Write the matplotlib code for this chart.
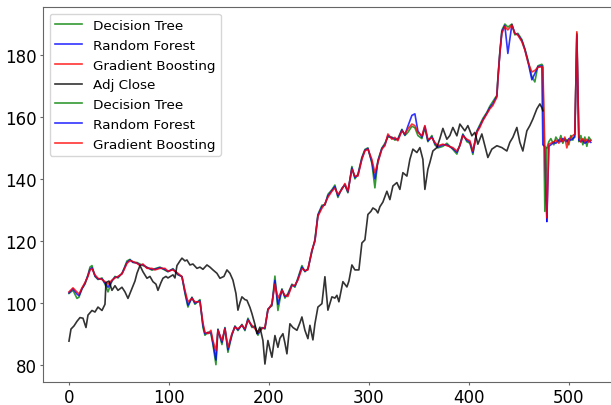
"""
Stock price vs. model predictions (Decision Tree / Random Forest / Gradient Boosting)
"""

import matplotlib
matplotlib.use("Agg")
import matplotlib.pyplot as plt

# ── 1. Data ──────────────────────────────────────────────────────────────────
# first stretch of predictions (day index 0 .. 478)
pred_x = [
    0, 4, 8, 10, 13, 16, 19, 21, 23, 26,
    29, 33, 36, 39, 43, 46, 49, 53, 55, 58,
    61, 64, 68, 71, 74, 78, 83, 86, 91, 96,
    99, 104, 109, 113, 116, 119, 123, 126, 131, 134,
    136, 139, 142, 144, 147, 149, 153, 156, 159, 163,
    166, 169, 173, 176, 179, 183, 186, 189, 193, 196,
    199, 203, 206, 209, 213, 216, 219, 223, 226, 229,
    233, 236, 239, 243, 246, 249, 253, 256, 259, 263,
    266, 269, 273, 276, 279, 283, 286, 289, 293, 296,
    299, 303, 306, 309, 313, 316, 319, 323, 326, 329,
    333, 336, 339, 343, 346, 349, 353, 356, 359, 363,
    366, 369, 374, 378, 384, 388, 391, 394, 398, 401,
    404, 408, 411, 414, 418, 421, 424, 428, 429, 431,
    433, 436, 439, 443, 446, 449, 453, 456, 459, 463,
    466, 469, 473, 474, 476, 478,
]

dt_pred = [
    103.0, 104.0, 101.4, 101.8, 104.5, 106.0, 109.0, 111.5, 112.0, 108.5,
    107.5, 108.0, 106.0, 103.5, 107.0, 108.5, 108.0, 109.5, 111.0, 113.5,
    114.0, 113.0, 113.0, 112.5, 112.0, 111.5, 110.5, 111.0, 111.5, 110.5,
    110.0, 111.0, 109.0, 108.5, 103.0, 98.6, 101.8, 99.5, 101.0, 92.0,
    89.5, 90.5, 90.0, 86.5, 80.0, 91.5, 86.5, 92.0, 84.0, 89.5,
    92.5, 91.0, 93.0, 91.0, 95.0, 92.0, 92.5, 89.5, 92.0, 91.5,
    98.0, 99.0, 108.6, 97.5, 104.5, 101.5, 103.0, 106.0, 105.0, 108.0,
    112.0, 110.0, 111.0, 116.5, 120.5, 128.5, 131.5, 131.5, 135.0, 136.5,
    138.0, 134.0, 137.0, 138.0, 135.5, 144.0, 140.0, 141.5, 147.0, 149.5,
    150.0, 145.0, 137.1, 146.0, 150.0, 151.5, 153.5, 153.5, 152.5, 153.0,
    156.0, 154.0, 155.0, 157.0, 156.5, 154.0, 153.0, 156.5, 152.0, 154.0,
    151.0, 150.0, 150.5, 151.5, 149.5, 148.0, 151.0, 154.5, 152.0, 151.5,
    147.9, 155.5, 157.5, 159.5, 161.5, 163.5, 165.0, 167.0, 172.5, 181.0,
    188.0, 190.0, 189.0, 190.0, 186.5, 187.0, 185.0, 182.0, 178.5, 173.0,
    171.3, 176.5, 177.0, 176.5, 129.5, 150.0,
]

rf_pred = [
    103.2, 104.5, 102.8, 102.3, 104.5, 106.3, 108.8, 110.8, 111.3, 108.7,
    107.7, 107.7, 106.4, 105.0, 107.1, 108.2, 108.3, 109.4, 110.8, 113.0,
    113.8, 113.1, 112.8, 112.2, 112.3, 111.3, 110.8, 110.8, 111.3, 110.8,
    110.1, 110.8, 109.2, 108.4, 103.5, 99.2, 101.6, 99.9, 100.6, 92.8,
    90.0, 90.3, 90.5, 87.0, 81.5, 91.3, 87.2, 91.8, 84.8, 89.8,
    92.3, 91.3, 92.8, 91.3, 94.6, 92.4, 92.0, 90.0, 91.8, 91.8,
    97.8, 99.4, 107.2, 99.5, 104.2, 102.0, 102.5, 105.7, 105.4, 107.6,
    111.5, 110.2, 110.8, 116.8, 120.0, 128.2, 131.0, 131.8, 134.5, 136.2,
    137.5, 134.5, 136.8, 138.2, 135.8, 143.5, 140.5, 141.2, 146.6, 149.2,
    149.8, 145.5, 140.0, 145.6, 149.8, 151.0, 154.0, 153.2, 153.0, 152.6,
    155.8, 154.2, 157.0, 160.5, 161.0, 155.5, 153.5, 157.0, 152.3, 153.5,
    151.5, 150.3, 151.0, 151.0, 149.8, 148.6, 150.8, 154.2, 152.5, 151.9,
    148.5, 155.2, 157.0, 159.0, 161.2, 163.0, 164.2, 166.7, 172.0, 180.7,
    187.5, 189.5, 180.5, 189.8, 187.0, 186.6, 184.6, 181.8, 178.0, 172.0,
    174.0, 176.2, 176.5, 151.0, 150.5, 126.3,
]

gb_pred = [
    103.5, 104.8, 103.5, 102.8, 104.8, 106.5, 108.5, 110.5, 111.0, 109.0,
    107.9, 107.5, 106.8, 106.0, 107.3, 108.0, 108.5, 109.3, 110.6, 112.7,
    113.6, 113.3, 112.7, 112.0, 112.5, 111.1, 111.1, 110.6, 111.1, 111.1,
    110.2, 110.6, 109.5, 108.4, 104.0, 100.3, 101.4, 100.3, 100.3, 93.5,
    90.5, 90.0, 91.1, 87.8, 84.5, 91.1, 87.8, 91.6, 85.6, 90.0,
    92.1, 91.6, 92.7, 91.6, 94.3, 92.7, 91.6, 90.5, 91.6, 92.1,
    97.6, 99.7, 106.0, 101.5, 104.0, 102.4, 102.0, 105.5, 105.7, 107.3,
    111.0, 110.4, 110.6, 117.0, 119.8, 127.9, 130.5, 132.0, 134.0, 136.0,
    137.0, 135.0, 136.6, 138.5, 136.0, 143.1, 140.9, 140.9, 146.3, 149.0,
    149.6, 146.3, 142.0, 145.3, 149.6, 150.7, 154.5, 152.8, 153.4, 152.3,
    155.5, 154.5, 156.1, 157.7, 157.2, 155.0, 153.9, 157.2, 152.8, 153.2,
    151.8, 150.7, 151.2, 150.7, 150.1, 149.0, 150.7, 153.9, 152.8, 152.3,
    149.0, 155.0, 156.6, 158.8, 161.0, 162.6, 163.7, 166.4, 171.8, 180.5,
    187.0, 189.2, 188.1, 189.7, 187.0, 186.4, 184.3, 181.6, 177.8, 174.5,
    175.0, 176.0, 176.2, 176.0, 150.0, 127.5,
]

# actual adjusted close (day index 0 .. 474)
adj_x = [
    0, 2, 5, 8, 11, 14, 17, 19, 23, 26,
    29, 33, 36, 37, 40, 43, 46, 49, 53, 56,
    59, 63, 66, 68, 71, 74, 78, 81, 84, 87,
    89, 92, 94, 97, 99, 101, 104, 106, 108, 111,
    113, 116, 118, 121, 124, 128, 131, 134, 138, 141,
    144, 148, 151, 155, 158, 161, 164, 167, 169, 171,
    173, 176, 178, 181, 183, 186, 188, 191, 194, 196,
    199, 201, 203, 206, 209, 211, 214, 216, 218, 221,
    224, 228, 231, 233, 236, 239, 241, 244, 246, 249,
    253, 256, 259, 263, 266, 268, 270, 274, 278, 280,
    283, 286, 290, 293, 296, 299, 302, 304, 307, 309,
    311, 314, 318, 321, 324, 328, 331, 334, 338, 341,
    344, 348, 351, 354, 356, 359, 361, 364, 368, 371,
    374, 378, 381, 384, 388, 391, 396, 399, 403, 406,
    409, 413, 416, 419, 423, 428, 433, 438, 441, 444,
    448, 451, 454, 458, 461, 464, 468, 471, 473, 474,
]

adj_close = [
    87.6, 91.5, 92.5, 94.0, 95.2, 95.0, 92.0, 96.0, 97.5, 97.0,
    98.6, 97.5, 99.5, 106.5, 107.0, 104.0, 105.5, 104.0, 105.0, 103.5,
    101.4, 104.6, 107.0, 109.5, 112.0, 110.0, 107.9, 108.5, 106.8, 106.0,
    104.0, 106.5, 107.9, 108.5, 108.0, 108.4, 109.0, 108.0, 112.0, 113.5,
    114.4, 113.5, 113.8, 112.2, 112.5, 111.1, 111.5, 110.8, 112.2, 111.5,
    110.6, 109.5, 107.9, 108.5, 110.6, 109.5, 107.3, 103.0, 97.6, 100.0,
    101.9, 101.0, 100.8, 98.5, 96.5, 93.0, 90.0, 92.1, 87.8, 80.2,
    87.8, 85.0, 82.4, 89.4, 85.6, 88.5, 90.0, 87.0, 83.5, 93.2,
    92.0, 91.1, 93.5, 95.4, 91.1, 88.4, 92.7, 88.0, 93.2, 98.6,
    99.7, 108.4, 97.6, 101.9, 101.5, 102.4, 100.3, 106.8, 105.1, 107.0,
    112.2, 110.6, 110.6, 119.3, 120.3, 128.5, 129.5, 130.6, 130.0, 129.0,
    131.0, 132.5, 136.0, 133.3, 137.7, 138.8, 136.6, 142.0, 140.9, 146.3,
    149.6, 148.5, 150.1, 146.3, 136.6, 143.1, 145.3, 149.0, 150.1, 153.0,
    156.3, 152.8, 154.0, 156.6, 153.9, 157.7, 155.5, 157.2, 153.9, 155.0,
    151.2, 154.5, 150.7, 146.9, 149.6, 150.7, 150.1, 149.0, 151.8, 153.4,
    156.6, 151.8, 149.0, 155.5, 157.2, 159.3, 162.6, 164.2, 163.0, 162.0,
]

# second stretch of predictions (day index 478 .. 522)
pred2_x = [478, 480, 482, 485, 487, 490, 492, 494, 496, 498,
           500, 502, 504, 506, 508, 510, 512, 514, 516, 518,
           520, 522]

dt_pred2 = [150.0, 152.0, 153.0, 151.0, 153.5, 152.0, 154.0, 151.5, 153.0, 152.5,
            151.0, 154.0, 152.5, 154.5, 187.0, 152.0, 154.0, 151.0, 153.5, 150.5,
            153.5, 152.5]
rf_pred2 = [126.3, 150.5, 151.0, 151.8, 151.5, 152.5, 152.0, 153.0, 152.5, 152.0,
            153.0, 152.5, 153.0, 153.5, 186.5, 152.5, 152.0, 152.5, 151.5, 152.0,
            152.5, 151.8]
gb_pred2 = [127.5, 151.2, 151.5, 152.0, 152.5, 151.5, 153.0, 152.0, 153.5, 150.0,
            152.5, 153.5, 154.0, 154.5, 187.5, 153.4, 151.9, 153.0, 152.0, 152.8,
            151.8, 152.5]

# ── 2. Chart ──────────────────────────────────────────────────────────────────
matplotlib.rcParams.update({"font.family": "DejaVu Sans"})
LW, ALPHA = 1.2, 0.8

fig = plt.figure(figsize=(6.11, 4.06), dpi=100)
# axes run past the right edge of the canvas, as in the cropped reference
ax = fig.add_axes([0.0702, 0.0574, 0.9395, 0.9229])

ax.plot(pred_x, dt_pred, color="g", lw=LW, alpha=ALPHA, label="Decision Tree")
ax.plot(pred_x, rf_pred, color="b", lw=LW, alpha=ALPHA, label="Random Forest")
ax.plot(pred_x, gb_pred, color="r", lw=LW, alpha=ALPHA, label="Gradient Boosting")
ax.plot(adj_x, adj_close, color="k", lw=LW, alpha=ALPHA, label="Adj Close")
ax.plot(pred2_x, dt_pred2, color="g", lw=LW, alpha=ALPHA, label="Decision Tree")
ax.plot(pred2_x, rf_pred2, color="b", lw=LW, alpha=ALPHA, label="Random Forest")
ax.plot(pred2_x, gb_pred2, color="r", lw=LW, alpha=ALPHA, label="Gradient Boosting")

for side in ("left", "bottom", "top", "right"):
    ax.spines[side].set_color("#666666")
ax.tick_params(labelsize=12, color="#666666", length=2.5, pad=2)
ax.legend(loc="upper left", fontsize=9.7)

fig.savefig("out.png", dpi=100)
plt.close(fig)
